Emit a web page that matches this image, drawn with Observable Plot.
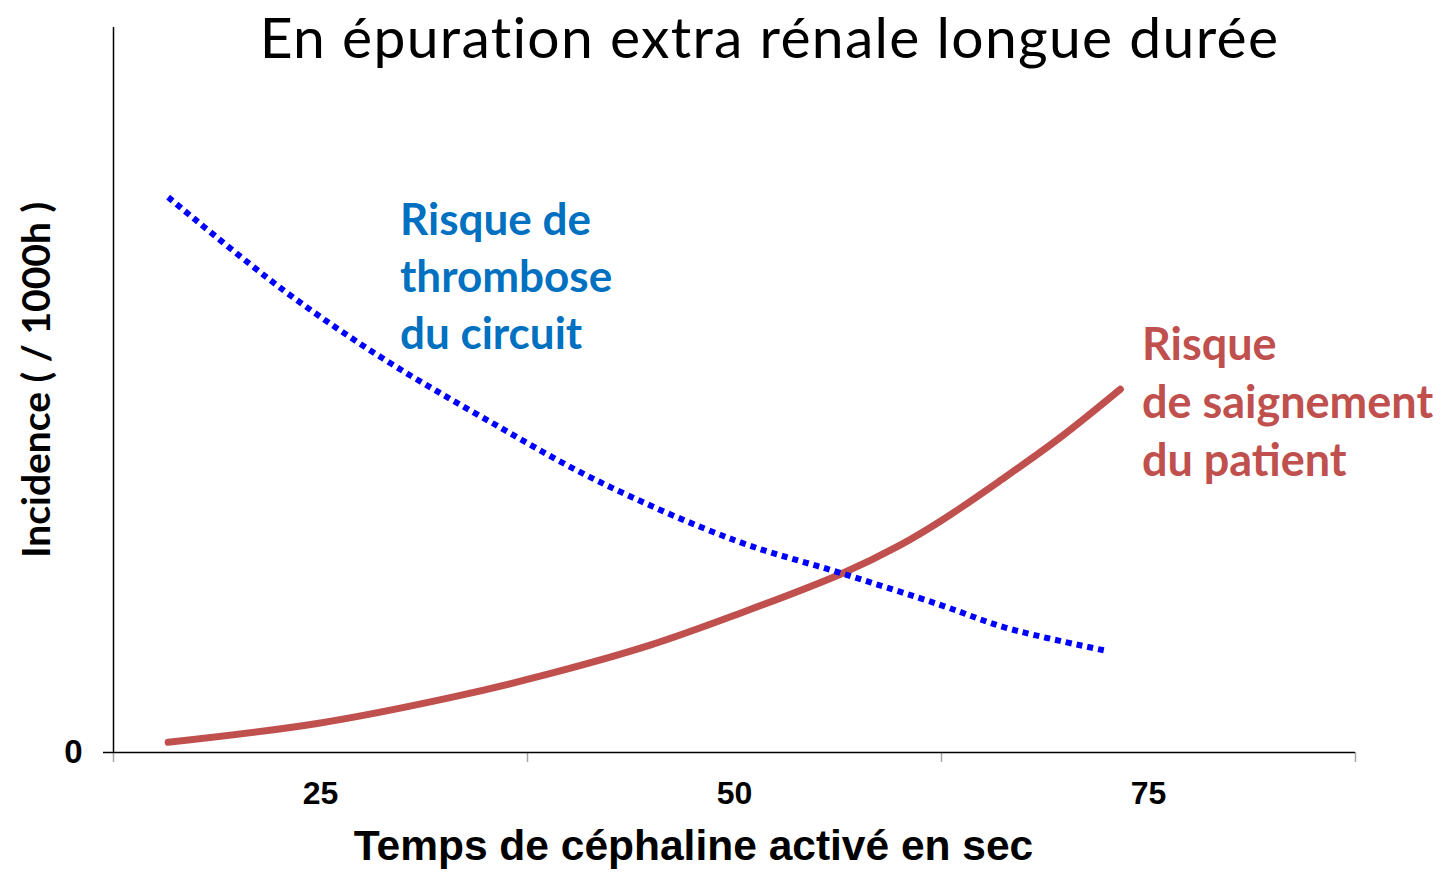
<!DOCTYPE html>
<html>
<head>
<meta charset="utf-8">
<script src="https://cdn.jsdelivr.net/npm/d3@7"></script>
<script src="https://cdn.jsdelivr.net/npm/@observablehq/plot@0.6"></script>
<style>
  html, body { margin: 0; padding: 0; background: white; }
</style>
</head>
<body>
<div id="chart"></div>
<script>
// ---- Data ----
const titleText = "En épuration extra rénale longue durée";
const xAxisTitle = "Temps de céphaline activé en sec";
const yAxisTitle = "Incidence ( / 1000h )";

const xTickLabels = [25, 50, 75];
const xCategoryBounds = [12.5, 37.5, 62.5, 87.5];
const yTickLabels = [0];

// Risque de thrombose du circuit (dotted blue)
const thromboseX = [15.8, 22.8, 28.8, 34.8, 41.7, 50.1, 56.5, 62.5, 66.4, 72.3];
const thromboseY = [76.6, 63.7, 54.3, 46.2, 37.5, 29.2, 24.7, 20.3, 17.2, 14.1];

// Risque de saignement du patient (solid red)
const saignementX = [15.8, 24.8, 32.9, 38.9, 44.9, 50.1, 56.5, 60.0, 62.5, 66.1, 69.7, 73.3];
const saignementY = [1.4, 4.0, 7.6, 10.9, 14.8, 19.0, 24.7, 28.6, 32.0, 37.6, 43.5, 50.1];

const thromboseLabel = "Risque de\nthrombose\ndu circuit";
const saignementLabel = "Risque\nde saignement\ndu patient";

// ---- Build tables ----
const thrombose = thromboseX.map((x, i) => ({x, y: thromboseY[i]}));
const saignement = saignementX.map((x, i) => ({x, y: saignementY[i]}));

const boldArial = "'Liberation Sans', Arial, sans-serif";
const calibriLike = "Lato, 'Open Sans', sans-serif";

const chart = Plot.plot({
  width: 1445,
  height: 872,
  marginLeft: 113,
  marginRight: 90,
  marginTop: 27,
  marginBottom: 120,
  style: {fontFamily: calibriLike, background: "white", color: "black"},
  x: {domain: [12.5, 87.5]},
  y: {domain: [0, 100]},
  marks: [
    // category boundary ticks (gray)
    Plot.axisX(xCategoryBounds, {
      tickSize: 10, tickFormat: () => "", stroke: "#a6a6a6", strokeWidth: 1.5, label: null
    }),
    // x tick labels
    Plot.axisX(xTickLabels, {
      tickSize: 0, tickPadding: 29, fontSize: 32, fontWeight: "bold",
      fontFamily: boldArial, label: null
    }),
    // y tick
    Plot.axisY(yTickLabels, {
      tickSize: 10, tickPadding: 21, fontSize: 33, fontWeight: "bold",
      fontFamily: boldArial, label: null, stroke: "black", strokeWidth: 1.5
    }),
    Plot.ruleY([0], {stroke: "black", strokeWidth: 1.5}),
    Plot.ruleX([12.5], {stroke: "black", strokeWidth: 1.5}),
    Plot.line(saignement, {
      x: "x", y: "y", stroke: "#C0504D", strokeWidth: 7, curve: "catmull-rom"
    }),
    Plot.line(thrombose, {
      x: "x", y: "y", stroke: "#0000FF", strokeWidth: 6, curve: "catmull-rom",
      strokeDasharray: "6,5", strokeLinecap: "butt"
    }),
    Plot.text([thromboseLabel], {
      x: 29.8, y: 77.0, textAnchor: "start", lineAnchor: "top",
      fontSize: 44, fontWeight: "bold", lineHeight: 1.295, fill: "#0070C0",
      fontFamily: calibriLike
    }),
    Plot.text([saignementLabel], {
      x: 74.6, y: 59.8, textAnchor: "start", lineAnchor: "top",
      fontSize: 45, fontWeight: "bold", lineHeight: 1.29, fill: "#C0504D",
      fontFamily: calibriLike
    }),
    Plot.text([titleText], {
      frameAnchor: "top", dx: 35, dy: 12.5, lineAnchor: "middle",
      fontSize: 57, fontFamily: calibriLike, fill: "black"
    }),
    Plot.text([yAxisTitle], {
      frameAnchor: "left", rotate: -90, dx: -76, dy: -10, lineAnchor: "middle",
      textAnchor: "middle",
      fontSize: 39, fontWeight: "bold", fontFamily: calibriLike, fill: "black"
    }),
    Plot.text([xAxisTitle], {
      frameAnchor: "bottom", dx: -41, dy: 94, lineAnchor: "middle",
      fontSize: 42.5, fontWeight: "bold", fontFamily: boldArial, fill: "black"
    })
  ]
});
// widen the title slightly (Calibri-like proportions)
d3.select(chart).selectAll("text")
  .filter(function() { return this.textContent === titleText; })
  .attr("letter-spacing", "1.3px");
document.getElementById("chart").appendChild(chart);
</script>
</body>
</html>
